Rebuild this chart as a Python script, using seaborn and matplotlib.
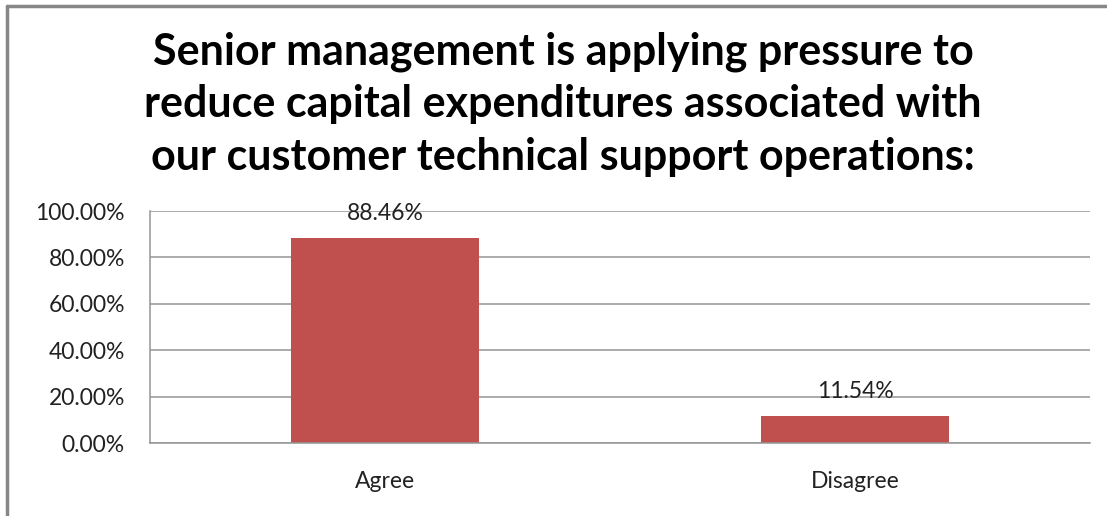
import matplotlib
matplotlib.use("Agg")
import matplotlib.pyplot as plt
import seaborn as sns
import pandas as pd
from matplotlib.lines import Line2D
from matplotlib.ticker import FuncFormatter

categories = ["Agree", "Disagree"]
shares = [88.46, 11.54]
title_lines = [
    "Senior management is applying pressure to",
    "reduce capital expenditures associated with",
    "our customer technical support operations:",
]

df = pd.DataFrame({"response": categories, "share": shares})

sns.set_theme(style="white")
plt.rcParams["font.family"] = ["Lato", "DejaVu Sans"]

fig = plt.figure(figsize=(11.07, 5.16), dpi=100)
W, H = 1107, 516
ax = fig.add_axes([150 / W, 1 - 443 / H, (1090 - 150) / W, (443 - 211) / H])

bar_color = "#C0504D"
sns.barplot(data=df, x="response", y="share", color=bar_color, width=0.4,
            saturation=1, ax=ax, edgecolor="none")

ax.set_ylim(0, 100)
ax.set_xlim(-0.5, 1.5)
ax.set_yticks([0, 20, 40, 60, 80, 100])
ax.yaxis.set_major_formatter(FuncFormatter(lambda v, _: f"{v:.2f}%"))
ax.grid(axis="y", color="#959595", linewidth=1.1)
ax.set_axisbelow(True)
for side in ["top", "right"]:
    ax.spines[side].set_visible(False)
for side in ["left", "bottom"]:
    ax.spines[side].set_color("#959595")
    ax.spines[side].set_linewidth(1.1)
ax.tick_params(axis="both", length=0, labelsize=16.5, colors="#222222")
ax.tick_params(axis="y", pad=18)
ax.tick_params(axis="x", pad=20)
ax.set_xlabel("")
ax.set_ylabel("")

for i, v in enumerate(shares):
    ax.annotate(f"{v:.2f}%", (i, v), xytext=(0, 10), textcoords="offset points",
                ha="center", va="bottom", fontsize=16.5, color="#222222")

for j, line in enumerate(title_lines):
    fig.text(563 / W, 1 - (52 + j * 52.5) / H, line, ha="center", va="center",
             fontsize=31, fontweight="bold", color="black")

# Chart-area frame: only the top and left edges fall inside the canvas
frame_kw = dict(transform=fig.transFigure, color="#878787", linewidth=2.5)
fig.lines.append(Line2D([7 / W, 1.0], [1 - 6 / H, 1 - 6 / H], **frame_kw))
fig.lines.append(Line2D([7 / W, 7 / W], [0.0, 1 - 6 / H], **frame_kw))

fig.savefig("out.png", dpi=100)
